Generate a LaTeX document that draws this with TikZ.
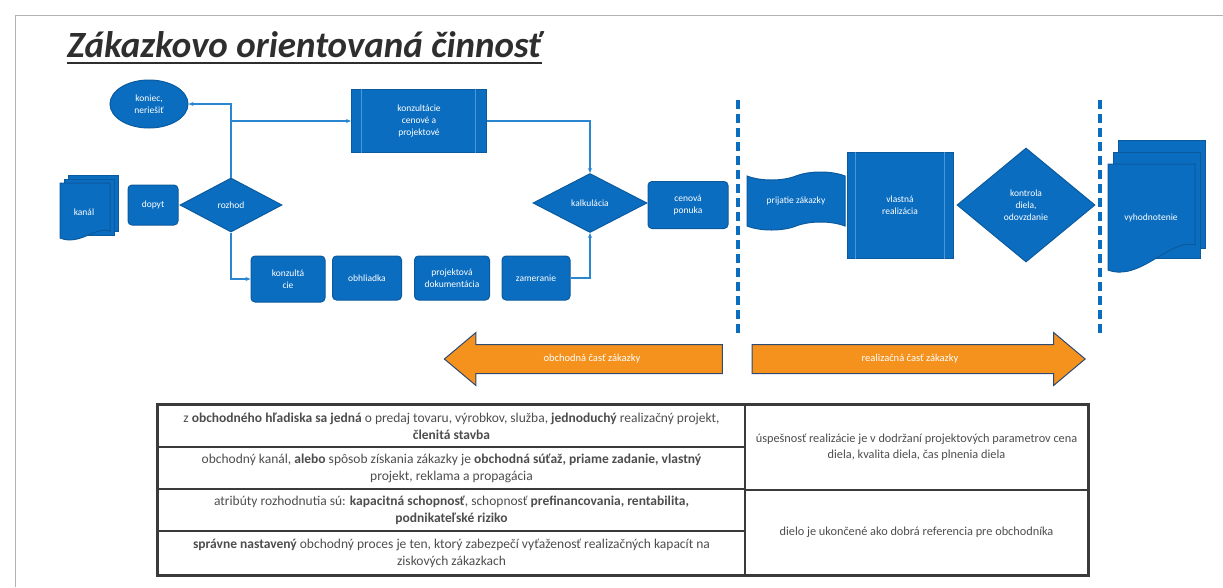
\documentclass[tikz,border=0pt]{standalone}
\usepackage{fontspec}
\setmainfont{Carlito}
\usepackage{tikz}
\usetikzlibrary{positioning}
\usetikzlibrary{arrows.meta}
\usetikzlibrary{shapes.geometric,shapes.symbols,shapes.arrows}

\definecolor{boxblue}{HTML}{0A6DC0}
\definecolor{edgeblue}{HTML}{0B5A9E}
\definecolor{lineblue}{HTML}{2B86D1}
\definecolor{barblue}{HTML}{4A97DA}
\definecolor{arroworange}{HTML}{F5921E}
\definecolor{arrowedge}{HTML}{2C4A74}
\definecolor{tablegray}{HTML}{3A3A3A}
\definecolor{titlegray}{HTML}{2E2E2E}

\begin{document}
\begin{tikzpicture}[x=1pt,y=-1pt,
    box/.style={draw=edgeblue,fill=boxblue,line width=1pt,text=white,align=center,
        font=\fontsize{9.5}{12}\selectfont,inner sep=1pt},
    roundbox/.style={box,rounded corners=4pt},
    decision/.style={box,diamond},
    page/.style={draw=edgeblue,fill=boxblue,line width=1pt},
    bar/.style={draw=barblue,line width=0.8pt},
    conn/.style={draw=lineblue,line width=1.2pt,-{Stealth[length=5pt,width=4pt]}},
    divider/.style={draw=boxblue,line width=3.2pt,dash pattern=on 9pt off 5pt},
    bigarrow/.style={single arrow,draw=arrowedge,fill=arroworange,line width=1pt,
        text=white,font=\fontsize{10.5}{12}\selectfont,single arrow head extend=12pt,
        single arrow tip angle=80,inner ysep=10pt,text height=6pt,text depth=2pt},
    cell/.style={draw=tablegray,line width=1.3pt,align=center,text=titlegray!85,
        font=\fontsize{13.5}{17}\selectfont,inner sep=0pt}]

    \useasboundingbox (0,0) rectangle (1223,587);

    % frame of the page
    \draw[black!30,line width=1pt] (15,587) -- (15,15) -- (1223,15);

    % title
    \node[anchor=base west,inner sep=0pt,text=titlegray,
        font=\fontsize{37}{42}\selectfont\bfseries\itshape] (title) at (67,57)
        {Zákazkovo orientovaná činnosť};
    \draw[titlegray,line width=2pt]
        ([yshift=-6pt]title.base west) -- ([yshift=-6pt]title.base east);

    % obchodna cast
    \node[box,ellipse,minimum width=78,minimum height=48] (koniec) at (149,104)
        {koniec,\\neriešiť};
    \node[box,minimum width=135,minimum height=63] (kons) at (419,121)
        {konzultácie\\cenové a\\projektové};
    \draw[bar] ([xshift=10pt]kons.north west) -- ([xshift=10pt]kons.south west);
    \draw[bar] ([xshift=-12pt]kons.north east) -- ([xshift=-12pt]kons.south east);

    \draw[page] (68,175) rectangle (118,231);
    \draw[page] (64,179) rectangle (114,235);
    \draw[page] (60,183) -- (110,183) -- (110,231)
        .. controls (95,226) and (80,246) .. (60,238) -- cycle;
    \node[text=white,font=\fontsize{9.5}{12}\selectfont] (kanal) at (84,212) {kanál};

    \node[roundbox,minimum width=50,minimum height=40] (dopyt) at (153,205) {dopyt};
    \node[decision,minimum width=102,minimum height=54] (rozhod) at (231,205) {rozhod};

    \node[roundbox,minimum width=74,minimum height=46] (konz) at (288,279)
        {konzultá\\cie};
    \node[roundbox,minimum width=69,minimum height=44] (obhl) at (367,278) {obhliadka};
    \node[roundbox,minimum width=75,minimum height=44] (projdok) at (452,278)
        {projektová\\dokumentácia};
    \node[roundbox,minimum width=68,minimum height=44] (zamer) at (536,278) {zameranie};

    \node[decision,minimum width=114,minimum height=59] (kalk) at (590,203) {kalkulácia};
    \node[roundbox,minimum width=80,minimum height=47] (ponuka) at (688,205)
        {cenová\\ponuka};

    \coordinate (split) at (rozhod.north |- kons.west);
    \draw[conn] (rozhod.north) |- (koniec.east);
    \draw[conn] (split) -- (kons.west);
    \draw[conn] (kons.east) -| (kalk.north);
    \draw[conn] (rozhod.south) |- (konz.west);
    \draw[conn] (zamer.east) -| (kalk.south);

    % realizacna cast
    \coordinate (d1top) at (738,100);
    \coordinate (d1bot) at (738,336);
    \coordinate (d2top) at (1100,100);
    \coordinate (d2bot) at (1100,336);
    \draw[divider] (d1top) -- (d1bot);
    \draw[divider] (d2top) -- (d2bot);

    \node[box,tape,tape bend height=8pt,minimum width=98,minimum height=58]
        (prijatie) at (796,201) {prijatie zákazky};
    \node[box,minimum width=106,minimum height=106] (realiz) at (900,205)
        {vlastná\\realizácia};
    \draw[bar] ([xshift=9pt]realiz.north west) -- ([xshift=9pt]realiz.south west);
    \draw[bar] ([xshift=-9pt]realiz.north east) -- ([xshift=-9pt]realiz.south east);
    \node[decision,minimum width=138,minimum height=114] (kontrola) at (1026,205)
        {kontrola\\diela,\\odovzdanie};

    \draw[page] (1118,140) rectangle (1205,248);
    \draw[page] (1113,152) rectangle (1200,258);
    \draw[page] (1108,164) -- (1195,164) -- (1195,245)
        .. controls (1170,238) and (1140,282) .. (1108,270) -- cycle;
    \node[text=white,font=\fontsize{9.5}{12}\selectfont] (vyhod) at (1151,218)
        {vyhodnotenie};

    % sipky
    \node[bigarrow,shape border rotate=180,minimum height=278] (obch) at (592,359)
        {obchodná časť zákazky};
    \node[bigarrow,minimum height=333] (real) at (910,359)
        {realizačná časť zákazky};

    % tabulka
    \node[cell,minimum width=587,minimum height=42] (r1) at (451.5,426)
        {z \textbf{obchodného hľadiska sa jedná} o predaj tovaru, výrobkov, služba,
         \textbf{jednoduchý} realizačný projekt,\\ \textbf{členitá stavba}};
    \node[cell,minimum width=587,minimum height=42] (r2) at (451.5,468)
        {obchodný kanál, \textbf{alebo} spôsob získania zákazky je
         \textbf{obchodná súťaž, priame zadanie, vlastný}\\ projekt, reklama a propagácia};
    \node[cell,minimum width=587,minimum height=42] (r3) at (451.5,510)
        {atribúty rozhodnutia sú: \textbf{kapacitná schopnosť}, schopnosť
         \textbf{prefinancovania, rentabilita,}\\ \textbf{podnikateľské riziko}};
    \node[cell,minimum width=587,minimum height=44] (r4) at (451.5,553)
        {\textbf{správne nastavený} obchodný proces je ten, ktorý zabezpečí vyťaženosť
         realizačných kapacít na\\ ziskových zákazkach};
    \node[cell,font=\fontsize{12.3}{16}\selectfont,minimum width=343,minimum height=85]
        (s1) at (916.5,447.5)
        {úspešnosť realizácie je v dodržaní projektových parametrov cena\\
         diela, kvalita diela, čas plnenia diela};
    \node[cell,font=\fontsize{12.3}{16}\selectfont,minimum width=343,minimum height=85]
        (s2) at (916.5,532.5)
        {dielo je ukončené ako dobrá referencia pre obchodníka};
    \draw[tablegray,line width=2.2pt] (r1.north west) rectangle (s2.south east);
\end{tikzpicture}
\end{document}
